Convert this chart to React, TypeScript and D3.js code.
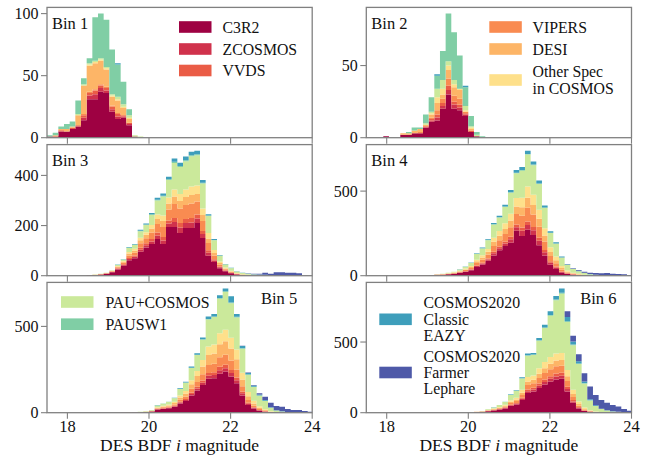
import React from 'react';
import * as d3 from 'd3';

// stacking order, bottom to top
const categories = [
  'C3R2',
  'ZCOSMOS',
  'VVDS',
  'VIPERS',
  'DESI',
  'Other Spec\nin COSMOS',
  'PAU+COSMOS',
  'PAUSW1',
  'COSMOS2020\nClassic\nEAZY',
  'COSMOS2020\nFarmer\nLephare',
];
const colors = [
  '#9e0142', '#d0324c', '#ea5c46', '#f98b51', '#fdb567',
  '#fee08b', '#cbe99b', '#80cea5', '#3e9ebb', '#4e59a8',
];

const magTicks = [18, 20, 22, 24];
const magMin = 17.5;
const magMax = 24;
const binWidth = 5 / 36; // bin k covers [17.5 + k*w, 17.5 + (k+1)*w]

// counts per category (rows follow `categories`), first column is bin index binNStart
const bin1Start = 0;
const bin1Counts = [
  [1, 1, 5, 5, 7, 9, 14, 31, 31, 37, 36, 21, 15, 16, 10, 1, 0],
  [0, 0, 0, 0, 0, 0, 2, 3, 4, 3, 2, 2, 2, 1, 1, 0, 0],
  [0, 0, 1, 0, 1, 1, 2, 2, 3, 2, 2, 2, 2, 1, 1, 0, 0],
  [0, 0, 0, 0, 0, 0, 1, 1, 1, 1, 1, 1, 1, 0, 0, 0, 0],
  [0, 1, 1, 2, 1, 8, 23, 21, 21, 19, 14, 7, 10, 6, 3, 0, 0],
  [0, 0, 0, 0, 0, 0, 0, 1, 1, 1, 1, 1, 1, 1, 1, 0, 0],
  [0, 0, 0, 0, 0, 1, 1, 1, 1, 1, 1, 1, 2, 2, 2, 1, 1],
  [1, 2, 2, 4, 4, 11, 5, 4, 35, 36, 38, 36, 26, 18, 5, 0, 0],
  [0, 0, 0, 0, 0, 0, 0, 0, 0, 0, 0, 0, 1, 0, 0, 0, 0],
  [0, 0, 0, 0, 0, 0, 0, 0, 0, 0, 0, 0, 0, 0, 0, 0, 0],
];

const bin2Start = 3;
const bin2Counts = [
  [1, 0, 0, 2, 2, 3, 3, 7, 11, 12, 20, 30, 20, 19, 15, 4, 1, 0],
  [0, 0, 0, 0, 0, 0, 0, 0, 1, 2, 2, 3, 3, 2, 1, 0, 0, 0],
  [0, 0, 0, 0, 0, 0, 0, 1, 1, 2, 2, 3, 2, 2, 1, 1, 0, 0],
  [0, 0, 0, 0, 0, 0, 1, 0, 1, 3, 3, 5, 4, 4, 1, 0, 0, 0],
  [0, 0, 0, 1, 1, 2, 2, 1, 2, 5, 3, 6, 6, 6, 0, 1, 0, 0],
  [0, 0, 0, 0, 0, 0, 0, 0, 1, 4, 4, 3, 2, 1, 1, 1, 0, 0],
  [0, 0, 0, 0, 0, 0, 0, 1, 1, 6, 6, 3, 3, 0, 3, 1, 1, 0],
  [0, 0, 0, 0, 1, 2, 1, 6, 10, 9, 20, 33, 33, 23, 13, 7, 2, 1],
  [0, 0, 0, 0, 0, 0, 0, 0, 0, 1, 0, 0, 0, 0, 1, 0, 0, 0],
  [0, 0, 0, 0, 0, 0, 0, 0, 0, 0, 0, 0, 0, 0, 0, 0, 0, 0],
];

const bin3Start = 7;
const bin3Counts = [
  [2, 3, 5, 8, 14, 25, 40, 62, 70, 96, 112, 126, 146, 126, 194, 194, 170, 190, 190, 210, 150, 80, 55, 30, 18, 10, 5, 3, 2, 1, 1, 0, 0, 0, 0, 0, 0, 0, 0],
  [0, 0, 0, 1, 1, 3, 3, 5, 6, 8, 9, 10, 14, 14, 14, 20, 22, 20, 22, 18, 16, 12, 6, 4, 2, 1, 1, 0, 0, 0, 0, 0, 0, 0, 0, 0, 0, 0, 0],
  [1, 0, 0, 0, 1, 2, 3, 4, 5, 7, 8, 10, 12, 14, 12, 16, 18, 16, 18, 16, 12, 10, 5, 3, 2, 1, 1, 0, 0, 0, 0, 0, 0, 0, 0, 0, 0, 0, 0],
  [0, 0, 1, 1, 2, 4, 6, 10, 11, 18, 20, 26, 34, 40, 44, 56, 58, 56, 58, 52, 40, 28, 15, 8, 4, 3, 1, 1, 0, 0, 0, 0, 0, 0, 0, 0, 0, 0, 0],
  [0, 1, 1, 1, 1, 3, 4, 8, 8, 12, 14, 16, 20, 24, 24, 30, 30, 32, 34, 30, 24, 18, 10, 6, 3, 2, 1, 1, 1, 0, 0, 0, 0, 0, 0, 0, 0, 0, 0],
  [0, 0, 0, 0, 1, 2, 3, 6, 7, 10, 10, 14, 18, 22, 24, 28, 28, 30, 34, 34, 26, 22, 12, 6, 4, 3, 2, 1, 1, 1, 0, 0, 0, 0, 0, 0, 0, 0, 0],
  [0, 1, 1, 1, 2, 4, 5, 15, 15, 26, 29, 40, 56, 76, 70, 106, 108, 112, 120, 120, 100, 68, 38, 23, 12, 10, 6, 5, 4, 3, 3, 3, 2, 2, 2, 1, 1, 1, 0],
  [0, 0, 0, 0, 0, 1, 1, 2, 2, 2, 2, 3, 3, 3, 3, 4, 4, 4, 4, 4, 3, 2, 1, 1, 1, 1, 0, 0, 0, 0, 0, 0, 0, 0, 0, 0, 0, 0, 0],
  [0, 0, 0, 0, 0, 1, 1, 2, 2, 4, 4, 5, 8, 9, 10, 13, 13, 15, 14, 14, 11, 5, 4, 2, 1, 1, 1, 1, 1, 1, 1, 1, 0, 1, 0, 1, 0, 0, 0],
  [0, 0, 0, 0, 0, 0, 0, 0, 0, 0, 0, 0, 0, 0, 0, 0, 0, 0, 0, 0, 0, 0, 0, 0, 0, 0, 0, 0, 1, 2, 3, 8, 6, 11, 12, 10, 11, 9, 1],
];

const bin4Start = 9;
const bin4Counts = [
  [1, 1, 2, 4, 6, 8, 11, 17, 23, 32, 52, 66, 88, 120, 150, 175, 195, 265, 235, 272, 240, 180, 120, 65, 40, 18, 10, 6, 3, 2, 1, 0, 0, 0, 0, 0, 0, 0],
  [0, 0, 0, 1, 0, 1, 1, 2, 2, 3, 5, 6, 8, 12, 12, 15, 20, 22, 30, 28, 28, 26, 18, 12, 8, 4, 2, 1, 1, 0, 0, 0, 0, 0, 0, 0, 0, 0],
  [0, 0, 0, 0, 1, 1, 1, 1, 2, 3, 4, 5, 6, 10, 10, 12, 15, 16, 20, 21, 20, 18, 14, 9, 6, 3, 2, 1, 0, 0, 0, 0, 0, 0, 0, 0, 0, 0],
  [0, 0, 1, 1, 1, 2, 3, 4, 6, 8, 14, 18, 24, 34, 38, 44, 56, 62, 70, 80, 74, 66, 50, 30, 20, 10, 5, 3, 2, 1, 0, 0, 0, 0, 0, 0, 0, 0],
  [0, 1, 0, 1, 1, 1, 2, 3, 4, 6, 10, 12, 16, 24, 26, 30, 40, 44, 50, 60, 56, 46, 36, 24, 18, 10, 5, 3, 2, 1, 1, 0, 0, 0, 0, 0, 0, 0],
  [0, 0, 0, 0, 1, 1, 2, 3, 5, 6, 10, 14, 16, 24, 28, 34, 40, 50, 56, 66, 60, 54, 42, 28, 22, 12, 7, 4, 3, 2, 1, 1, 0, 0, 0, 0, 0, 0],
  [0, 0, 1, 1, 2, 4, 4, 7, 11, 17, 34, 40, 52, 78, 80, 96, 124, 146, 160, 189, 175, 152, 120, 84, 75, 50, 33, 21, 16, 10, 6, 4, 3, 3, 2, 1, 1, 0],
  [0, 0, 0, 0, 0, 0, 0, 0, 0, 1, 1, 1, 2, 2, 2, 3, 3, 4, 4, 4, 4, 3, 3, 2, 2, 1, 1, 0, 0, 0, 0, 0, 0, 0, 0, 0, 0, 0],
  [0, 0, 0, 0, 0, 0, 0, 1, 1, 2, 3, 5, 5, 8, 9, 10, 13, 16, 18, 18, 18, 17, 12, 8, 7, 5, 3, 2, 2, 1, 1, 1, 0, 1, 0, 0, 0, 0],
  [0, 0, 0, 0, 0, 0, 0, 0, 0, 0, 0, 0, 0, 0, 0, 0, 0, 0, 0, 0, 0, 0, 0, 0, 0, 0, 1, 3, 5, 7, 8, 10, 11, 12, 10, 9, 7, 4],
];

const bin5Start = 13;
const bin5Counts = [
  [1, 1, 2, 3, 4, 7, 18, 22, 26, 34, 54, 68, 100, 128, 160, 196, 200, 226, 238, 210, 170, 100, 45, 24, 12, 6, 3, 2, 1, 0, 0, 0, 0, 0],
  [0, 0, 0, 0, 0, 1, 2, 2, 2, 3, 5, 6, 9, 12, 14, 18, 18, 20, 20, 20, 18, 12, 7, 4, 2, 1, 0, 0, 0, 0, 0, 0, 0, 0],
  [0, 0, 0, 0, 0, 0, 1, 2, 2, 3, 4, 5, 8, 10, 13, 16, 17, 20, 20, 18, 16, 11, 6, 4, 2, 1, 0, 0, 0, 0, 0, 0, 0, 0],
  [0, 0, 0, 0, 1, 1, 4, 5, 6, 8, 12, 15, 22, 28, 36, 46, 48, 56, 58, 54, 46, 30, 16, 9, 5, 3, 1, 0, 0, 0, 0, 0, 0, 0],
  [0, 1, 0, 1, 1, 2, 4, 5, 6, 8, 13, 17, 26, 34, 44, 58, 60, 74, 78, 70, 60, 40, 22, 13, 7, 4, 2, 1, 0, 0, 0, 0, 0, 0],
  [0, 0, 0, 0, 0, 1, 3, 4, 5, 7, 12, 15, 23, 30, 38, 50, 52, 64, 67, 62, 56, 38, 24, 15, 9, 5, 3, 1, 1, 0, 0, 0, 0, 0],
  [0, 0, 1, 1, 2, 3, 10, 12, 15, 21, 37, 48, 71, 92, 118, 156, 160, 200, 218, 200, 186, 140, 100, 80, 62, 48, 20, 9, 5, 3, 2, 2, 1, 0],
  [0, 0, 0, 0, 0, 0, 1, 1, 1, 1, 1, 1, 2, 2, 3, 3, 3, 4, 4, 4, 4, 3, 2, 2, 1, 1, 0, 0, 0, 0, 0, 0, 0, 0],
  [0, 0, 0, 0, 0, 0, 1, 1, 1, 2, 4, 5, 7, 9, 10, 15, 14, 16, 16, 37, 16, 12, 8, 6, 5, 4, 2, 1, 1, 0, 0, 0, 0, 0],
  [0, 0, 0, 0, 0, 0, 0, 0, 0, 0, 0, 0, 0, 0, 0, 0, 0, 0, 0, 0, 0, 2, 3, 4, 8, 20, 27, 25, 27, 18, 13, 13, 9, 5],
];

const bin6Start = 19;
const bin6Counts = [
  [4, 6, 11, 16, 22, 30, 48, 58, 90, 140, 150, 175, 200, 220, 235, 240, 150, 70, 30, 12, 6, 3, 2, 1, 0, 0, 0, 0],
  [0, 1, 1, 2, 2, 3, 5, 6, 8, 12, 14, 16, 18, 20, 22, 22, 18, 10, 5, 2, 1, 0, 0, 0, 0, 0, 0, 0],
  [0, 0, 1, 1, 2, 3, 4, 5, 8, 12, 12, 15, 17, 18, 20, 20, 16, 9, 5, 2, 1, 0, 0, 0, 0, 0, 0, 0],
  [1, 1, 2, 4, 5, 7, 11, 13, 20, 32, 32, 40, 46, 50, 52, 50, 40, 22, 10, 5, 2, 1, 0, 0, 0, 0, 0, 0],
  [1, 1, 2, 3, 4, 6, 9, 11, 16, 25, 25, 30, 34, 38, 40, 40, 34, 22, 12, 6, 3, 2, 1, 0, 0, 0, 0, 0],
  [0, 1, 2, 3, 5, 7, 11, 13, 20, 32, 30, 38, 44, 48, 50, 50, 44, 30, 18, 9, 4, 2, 1, 1, 0, 0, 0, 0],
  [1, 2, 5, 8, 14, 20, 38, 50, 80, 150, 145, 195, 240, 292, 377, 420, 340, 315, 265, 170, 70, 40, 22, 14, 9, 6, 3, 1],
  [0, 0, 0, 0, 0, 1, 1, 1, 2, 3, 3, 4, 4, 5, 5, 6, 5, 4, 3, 2, 1, 0, 0, 0, 0, 0, 0, 0],
  [0, 0, 0, 1, 1, 1, 3, 4, 7, 13, 11, 15, 20, 26, 24, 30, 30, 22, 16, 12, 7, 4, 2, 2, 1, 1, 0, 0],
  [0, 0, 0, 0, 0, 0, 0, 0, 0, 0, 0, 0, 0, 0, 0, 0, 40, 40, 50, 60, 90, 74, 62, 53, 45, 36, 23, 13],
];

const FONT = "'Liberation Serif', 'DejaVu Serif', 'Times New Roman', Times, serif";
const SPINE = '#808080';
const INK = '#111';

const colX = [47, 366.3];
const rowY = [[7.4, 137.7], [144.6, 275.7], [282.4, 412.7]];
const panelW = 265.2;

type LegendSpec = { items: number[]; patchX: number; textX: number; centers: number[] };

const panels = [
  { name: 'Bin 1', counts: bin1Counts, start: bin1Start, col: 0, row: 0, yTicks: [0, 50, 100], labelRight: false,
    legend: { items: [0, 1, 2], patchX: 179, textX: 222.5, centers: [27, 49, 70.5] } },
  { name: 'Bin 2', counts: bin2Counts, start: bin2Start, col: 1, row: 0, yTicks: [0, 50], labelRight: false,
    legend: { items: [3, 4, 5], patchX: 489.3, textX: 532.5, centers: [27, 49, 80] } },
  { name: 'Bin 3', counts: bin3Counts, start: bin3Start, col: 0, row: 1, yTicks: [0, 200, 400], labelRight: false, legend: null },
  { name: 'Bin 4', counts: bin4Counts, start: bin4Start, col: 1, row: 1, yTicks: [0, 500], labelRight: false, legend: null },
  { name: 'Bin 5', counts: bin5Counts, start: bin5Start, col: 0, row: 2, yTicks: [0, 500], labelRight: true,
    legend: { items: [6, 7], patchX: 61, textX: 105.5, centers: [302, 324.2] } },
  { name: 'Bin 6', counts: bin6Counts, start: bin6Start, col: 1, row: 2, yTicks: [0, 500], labelRight: true,
    legend: { items: [8, 9], patchX: 379.3, textX: 423.5, centers: [319.3, 372.5] } },
];

const edge = (k: number) => magMin + k * binWidth;

function Legend({ spec }: { spec: LegendSpec }) {
  const lineH = 16.4;
  return (
    <g>
      {spec.items.map((ci, i) => {
        const lines = categories[ci].split('\n');
        const cy = spec.centers[i];
        return (
          <g key={ci}>
            <rect x={spec.patchX} y={cy - 5.8} width={32.5} height={11.6} fill={colors[ci]} />
            {lines.map((ln, j) => (
              <text key={j} x={spec.textX} y={cy + (j - (lines.length - 1) / 2) * lineH}
                dominantBaseline="central" style={{ fontFamily: FONT }} fontSize={15.8} fill={INK}>{ln}</text>
            ))}
          </g>
        );
      })}
    </g>
  );
}

function Panel({ p, idx }: { p: typeof panels[number]; idx: number }) {
  const x0 = colX[p.col];
  const [top, bottom] = rowY[p.row];
  const xs = d3.scaleLinear().domain([magMin, magMax]).range([x0, x0 + panelW]);

  const rows = p.counts[0].map((_, i) => ({ k: p.start + i, counts: p.counts.map((c) => c[i]) }));
  const yMax = (d3.max(rows, (r) => d3.sum(r.counts)) as number) * 1.05;
  const ys = d3.scaleLinear().domain([0, yMax]).range([bottom, top]);

  const series = d3.stack<any, number>()
    .keys(d3.range(categories.length))
    .value((r, key) => r.counts[key])(rows);

  const area = d3.area<{ x: number; y0: number; y1: number }>()
    .x((d) => xs(d.x))
    .y0((d) => ys(d.y0))
    .y1((d) => ys(d.y1))
    .curve(d3.curveStepAfter);

  const clipId = `clip-${idx}`;
  const bottomRow = p.row === 2;

  return (
    <g>
      <defs>
        <clipPath id={clipId}>
          <rect x={x0} y={top} width={panelW} height={bottom - top} />
        </clipPath>
      </defs>
      <g clipPath={`url(#${clipId})`}>
        {series.map((s, j) => {
          const pts = s.map((d, i) => ({ x: edge(rows[i].k), y0: d[0], y1: d[1] }));
          const last = s[s.length - 1];
          pts.push({ x: edge(rows[rows.length - 1].k + 1), y0: last[0], y1: last[1] });
          return <path key={j} d={area(pts) || ''} fill={colors[j]} />;
        })}
      </g>
      <rect x={x0} y={top} width={panelW} height={bottom - top} fill="none" stroke={SPINE} strokeWidth={1.3} />
      {magTicks.map((t) => (
        <g key={t}>
          <line x1={xs(t)} x2={xs(t)} y1={bottom} y2={bottom + 6} stroke={SPINE} strokeWidth={1.1} />
          {bottomRow && (
            <text x={xs(t)} y={bottom + 19.5} textAnchor="middle" style={{ fontFamily: FONT }} fontSize={16.5} fill={INK}>{t}</text>
          )}
        </g>
      ))}
      {p.yTicks.map((t) => (
        <g key={t}>
          <line x1={x0 - 6} x2={x0} y1={ys(t)} y2={ys(t)} stroke={SPINE} strokeWidth={1.1} />
          <text x={x0 - 8.5} y={ys(t)} textAnchor="end" dominantBaseline="central" style={{ fontFamily: FONT }} fontSize={16} fill={INK}>{t}</text>
        </g>
      ))}
      <text
        x={p.labelRight ? x0 + panelW - 15 : x0 + 5}
        y={top + 16}
        textAnchor={p.labelRight ? 'end' : 'start'}
        dominantBaseline="central"
        style={{ fontFamily: FONT }} fontSize={16.5} fill={INK}
      >{p.name}</text>
      {p.legend && <Legend spec={p.legend} />}
      {bottomRow && (
        <text x={x0 + panelW / 2} y={451} textAnchor="middle" style={{ fontFamily: FONT }} fontSize={17.5} fill={INK}>
          DES BDF <tspan fontStyle="italic">i</tspan> magnitude
        </text>
      )}
    </g>
  );
}

export default function App() {
  return (
    <svg width={656} height={459} style={{ position: 'absolute', left: 0, top: 0, background: '#fff' }}>
      <rect width={656} height={459} fill="#fff" />
      {panels.map((p, i) => <Panel key={p.name} p={p} idx={i} />)}
    </svg>
  );
}
